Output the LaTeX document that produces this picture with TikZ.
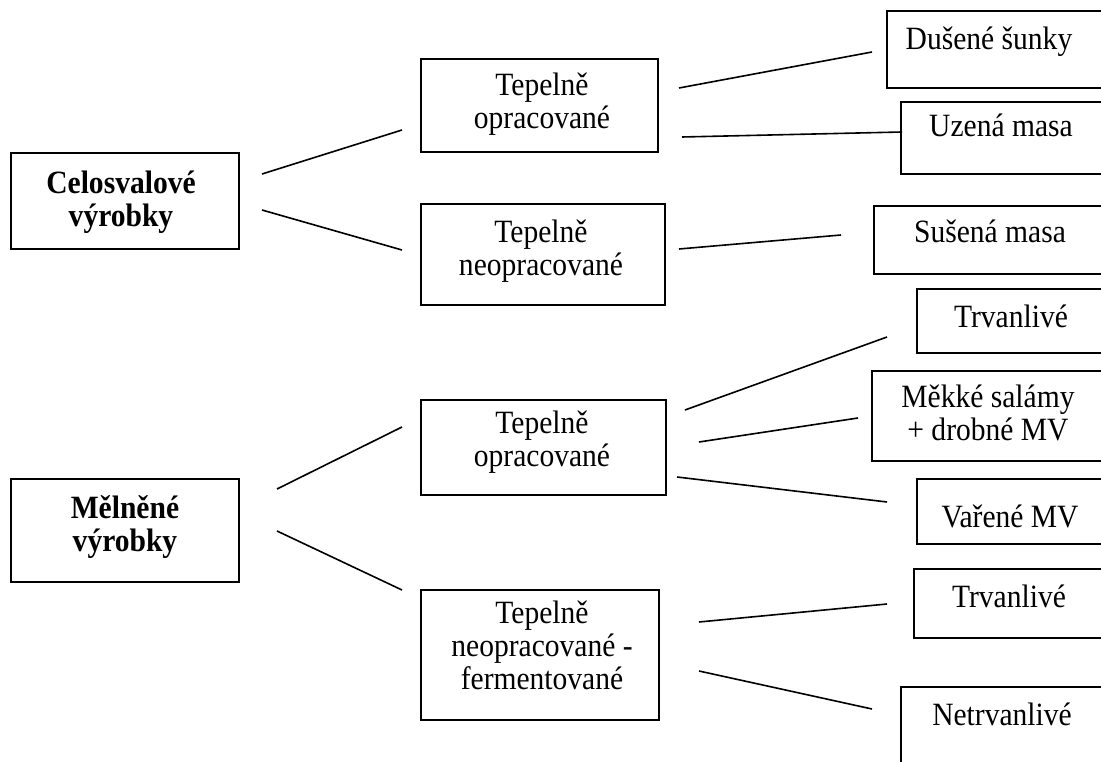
\documentclass[tikz,border=0pt]{standalone}
\usepackage{fontspec}
\setmainfont{Liberation Serif}[FakeStretch=0.909]
\begin{document}
\begin{tikzpicture}[x=1pt,y=-1pt,
  box/.style={draw, line width=1.6pt, rectangle, inner sep=0pt},
  txt/.style={inner sep=0pt, align=center, font=\fontsize{32.5}{33}\selectfont},
  btxt/.style={txt, font=\fontsize{32.5}{33}\selectfont\bfseries},
  conn/.style={line width=1.6pt}]
\useasboundingbox (0,0) rectangle (1101,762);
\clip (0,0) rectangle (1101,762);
% boxes
\node[box, minimum width=228pt, minimum height=96pt]  (celB)  at (125,201) {};
\node[box, minimum width=228pt, minimum height=103pt] (melB)  at (125,530.5) {};
\node[box, minimum width=237pt, minimum height=93pt]  (to1B)  at (539.5,105.5) {};
\node[box, minimum width=244pt, minimum height=101pt] (tn1B)  at (543,254.5) {};
\node[box, minimum width=245pt, minimum height=95pt]  (to2B)  at (543.5,447.5) {};
\node[box, minimum width=238pt, minimum height=130pt] (fermB) at (540,655) {};
\node[box, minimum width=228pt, minimum height=77pt]  (dusB)  at (1001,49.5) {};
\node[box, minimum width=214pt, minimum height=72pt]  (uzB)   at (1008,138) {};
\node[box, minimum width=241pt, minimum height=68pt]  (susB)  at (994.5,240) {};
\node[box, minimum width=198pt, minimum height=64pt]  (trv1B) at (1016,321) {};
\node[box, minimum width=243pt, minimum height=90pt]  (mekB)  at (993.5,416) {};
\node[box, minimum width=198pt, minimum height=65pt]  (varB)  at (1016,511.5) {};
\node[box, minimum width=201pt, minimum height=69pt]  (trv2B) at (1014.5,603.5) {};
\node[box, minimum width=214pt, minimum height=103pt] (netB)  at (1008,738.5) {};
% texts
\node[btxt] (celT)  at (121,201.8) {Celosvalové\\výrobky};
\node[btxt] (melT)  at (125,526.8) {Mělněné\\výrobky};
\node[txt]  (to1T)  at (542,104.3) {Tepelně\\opracované};
\node[txt]  (tn1T)  at (541,250.8) {Tepelně\\neopracované};
\node[txt]  (to2T)  at (542,442.3) {Tepelně\\opracované};
\node[txt]  (fermT) at (542,645.3) {Tepelně\\neopracované -\\fermentované};
\node[txt, anchor=base] (dusT)  at (989,50) {Dušené šunky};
\node[txt, anchor=base] (uzT)   at (1001,137) {Uzená masa};
\node[txt, anchor=base] (susT)  at (990,243) {Sušená masa};
\node[txt, anchor=base] (trv1T) at (1011,327) {Trvanlivé};
\node[txt]  (mekT)  at (988,413.3) {Měkké salámy\\+ drobné MV};
\node[txt, anchor=base] (varT)  at (1010,527) {Vařené MV};
\node[txt, anchor=base] (trv2T) at (1009,607) {Trvanlivé};
\node[txt, anchor=base] (netT)  at (1002,725) {Netrvanlivé};
% connector end points
\coordinate (a1) at (262,174); \coordinate (a2) at (402,130);
\coordinate (b1) at (262,210); \coordinate (b2) at (402,250);
\coordinate (c1) at (679,88);  \coordinate (c2) at (872,52);
\coordinate (d1) at (682,137); \coordinate (d2) at (902,132);
\coordinate (e1) at (679,249); \coordinate (e2) at (841,235);
\coordinate (f1) at (685,410); \coordinate (f2) at (887,337);
\coordinate (g1) at (699,442); \coordinate (g2) at (858,418);
\coordinate (h1) at (677,477); \coordinate (h2) at (887,502);
\coordinate (i1) at (277,489); \coordinate (i2) at (402,427);
\coordinate (j1) at (277,531); \coordinate (j2) at (402,590);
\coordinate (k1) at (699,622); \coordinate (k2) at (887,604);
\coordinate (l1) at (699,671); \coordinate (l2) at (872,709);
\draw[conn] (a1) -- (a2);
\draw[conn] (b1) -- (b2);
\draw[conn] (c1) -- (c2);
\draw[conn] (d1) -- (d2);
\draw[conn] (e1) -- (e2);
\draw[conn] (f1) -- (f2);
\draw[conn] (g1) -- (g2);
\draw[conn] (h1) -- (h2);
\draw[conn] (i1) -- (i2);
\draw[conn] (j1) -- (j2);
\draw[conn] (k1) -- (k2);
\draw[conn] (l1) -- (l2);
\end{tikzpicture}
\end{document}
